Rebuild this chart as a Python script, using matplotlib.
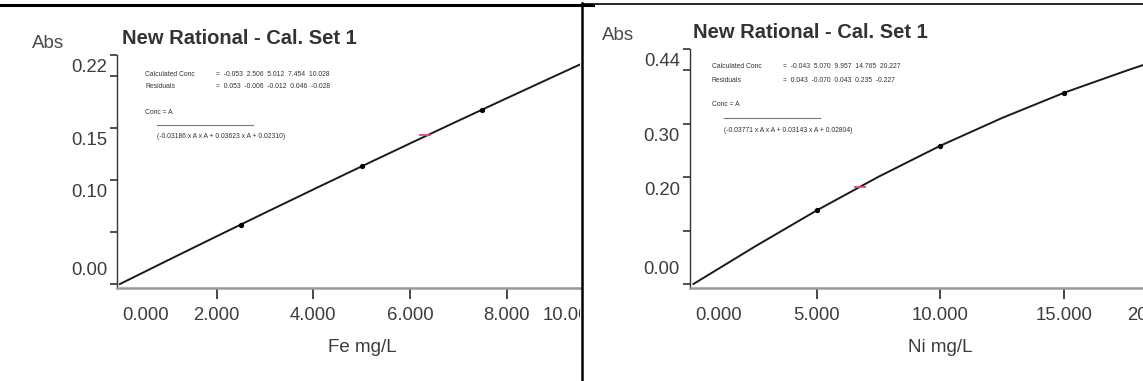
import matplotlib
matplotlib.use('Agg')
import matplotlib.pyplot as plt
from matplotlib.lines import Line2D
from matplotlib.transforms import Bbox, TransformedBbox, blended_transform_factory, offset_copy

plt.rcParams['font.family'] = ['Liberation Sans', 'DejaVu Sans']

W, H = 1143, 381

# Fe panel (left)
fe_conc = [0, 1, 2, 3, 4, 5, 6, 7, 8, 9, 9.6]
fe_abs = [0, 0.0230, 0.0458, 0.0684, 0.0908, 0.1130, 0.1350, 0.1568, 0.1784, 0.1998, 0.2126]
fe_std_conc = [2.5, 5.0, 7.5]
fe_std_abs = [0.0571, 0.1130, 0.1676]
fe_sample_conc = [6.31]
fe_sample_abs = [0.143]
fe_calc = ['-0.053', '2.506', '5.012', '7.454', '10.028']
fe_resid = ['0.053', '-0.006', '-0.012', '0.046', '-0.028']
fe_coef = ['-0.03186', '0.03623', '0.02310']
fe_xticks = [0, 2, 4, 6, 8, 10]
fe_yticks = [0, 0.05, 0.10, 0.15, 0.20, 0.22]
fe_ylabels = {0.22: '0.22', 0.15: '0.15', 0.10: '0.10', 0.0: '0.00'}

# Ni panel (right)
ni_conc = [0, 2.5, 5, 7.5, 10, 12.5, 15, 17.5, 18.4]
ni_abs = [0, 0.0705, 0.138, 0.201, 0.259, 0.311, 0.358, 0.399, 0.413]
ni_std_conc = [5, 10, 15]
ni_std_abs = [0.138, 0.259, 0.358]
ni_sample_conc = [6.74]
ni_sample_abs = [0.182]
ni_calc = ['-0.043', '5.070', '9.957', '14.765', '20.227']
ni_resid = ['0.043', '-0.070', '0.043', '0.235', '-0.227']
ni_coef = ['-0.03771', '0.03143', '0.02804']
ni_xticks = [0, 5, 10, 15, 20]
ni_yticks = [0, 0.1, 0.2, 0.3, 0.4, 0.44]
ni_ylabels = {0.44: '0.44', 0.30: '0.30', 0.20: '0.20', 0.0: '0.00'}

fig = plt.figure(figsize=(W / 100, H / 100), dpi=100)
fig.patch.set_facecolor('white')


def rect(x0, y0, x1, y1):
    return [x0 / W, 1 - y1 / H, (x1 - x0) / W, (y1 - y0) / H]


def ftext(x, y, s, **kw):
    return fig.text(x / W, 1 - y / H, s, va='center', **kw)


GRAY = '#3c3c3c'


def panel(box, xlim, ylim, conc, ab, sc, sa, smc, sma, xticks, yticks, ylabels,
          xlabel, title_xy, abs_xy, xlabel_xy, info_xy, calc, resid, coef, clip_x):
    ax = fig.add_axes(rect(*box))
    ax.set_xlim(*xlim)
    ax.set_ylim(*ylim)
    for s in ['top', 'right']:
        ax.spines[s].set_visible(False)
    ax.spines['left'].set_color('#333333')
    ax.spines['left'].set_linewidth(1.0)
    ax.spines['bottom'].set_color('#999999')
    ax.spines['bottom'].set_linewidth(1.8)

    ax.plot(conc, ab, color='#1a1a1a', lw=1.4, zorder=3)
    ax.plot(sc, sa, 'o', color='black', ms=2.8, zorder=4)
    ax.plot(smc, sma, '_', color='#e0506a', ms=9, mew=1.3, zorder=5)

    ax.set_yticks(yticks)
    ax.set_yticklabels([])
    ax.tick_params(axis='y', direction='out', length=5, width=1.2, color='#333333')
    inner = [t for t in xticks if xlim[0] < t < xlim[1] and t != 0]
    ax.set_xticks(inner)
    ax.set_xticklabels([])
    ax.tick_params(axis='x', direction='out', length=8, width=1.4, color='#444444')

    ytr = blended_transform_factory(ax.transAxes, ax.transData)
    for val, lab in ylabels.items():
        dy = 14 if val == 0 else -13
        ax.text(0, val, lab, transform=offset_copy(ytr, fig=fig, x=-10, y=dy, units='dots'),
                ha='right', va='center', fontsize=13.3, color=GRAY)

    xtr = blended_transform_factory(ax.transData, ax.transAxes)
    clip = TransformedBbox(Bbox([[0, 0], [clip_x / W, 1]]), fig.transFigure)
    for i, t in enumerate(xticks):
        fmt = '%.3f' % t
        if i == 0:
            ha, dx = 'left', 2
        elif i == len(xticks) - 1:
            ha, dx = 'right', -4
        else:
            ha, dx = 'center', 0
        txt = ax.text(t, 0, fmt, transform=offset_copy(xtr, fig=fig, x=dx, y=-27, units='dots'),
                      ha=ha, va='center', fontsize=13.3, color=GRAY)
        txt.set_clip_box(clip)
        txt.set_clip_on(True)

    ftext(*title_xy, 'New Rational - Cal. Set 1', fontsize=14.5, fontweight='bold',
          color='#333333', ha='left')
    ftext(*abs_xy, 'Abs', fontsize=13.5, color='#4a4a4a', ha='left')
    ftext(*xlabel_xy, xlabel, fontsize=13.5, color=GRAY, ha='center')

    ix, iy = info_xy
    fs = 4.9
    ftext(ix, iy, 'Calculated Conc', fontsize=fs, color='#333333', ha='left')
    ftext(ix + 71, iy, '=  ' + '  '.join(calc), fontsize=fs, color='#333333', ha='left')
    ftext(ix, iy + 13, 'Residuals', fontsize=fs, color='#333333', ha='left')
    ftext(ix + 71, iy + 13, '=  ' + '  '.join(resid), fontsize=fs, color='#333333', ha='left')
    ftext(ix, iy + 38, 'Conc = A', fontsize=fs, color='#333333', ha='left')
    fig.add_artist(Line2D([(ix + 12) / W, (ix + 108) / W], [1 - (iy + 51) / H] * 2,
                          color='#777777', lw=0.8))
    ftext(ix + 12, iy + 63, '(%s x A x A + %s x A + %s)' % tuple(coef), fontsize=fs,
          color='#333333', ha='left')
    return ax


panel((117, 55, 580, 288), (-0.06, 9.52), (-0.0038, 0.22),
      fe_conc, fe_abs, fe_std_conc, fe_std_abs, fe_sample_conc, fe_sample_abs,
      fe_xticks, fe_yticks, fe_ylabels, 'Fe mg/L',
      (122, 38), (32, 43), (362, 347), (145, 74), fe_calc, fe_resid, fe_coef, 580)

panel((690, 49, 1143, 288), (-0.14, 18.2), (-0.0075, 0.44),
      ni_conc, ni_abs, ni_std_conc, ni_std_abs, ni_sample_conc, ni_sample_abs,
      ni_xticks, ni_yticks, ni_ylabels, 'Ni mg/L',
      (693, 33), (602, 36), (940, 347), (712, 67), ni_calc, ni_resid, ni_coef, W)

# screenshot frame lines
fig.add_artist(Line2D([0, 593 / W], [1 - 4.5 / H] * 2, color='black', lw=2.2))
fig.add_artist(Line2D([583 / W, 1], [1 - 3.5 / H] * 2, color='black', lw=1.2))
fig.add_artist(Line2D([582 / W] * 2, [0, 1 - 3 / H], color='black', lw=1.8))

fig.savefig('out.png', dpi=100, facecolor='white')
